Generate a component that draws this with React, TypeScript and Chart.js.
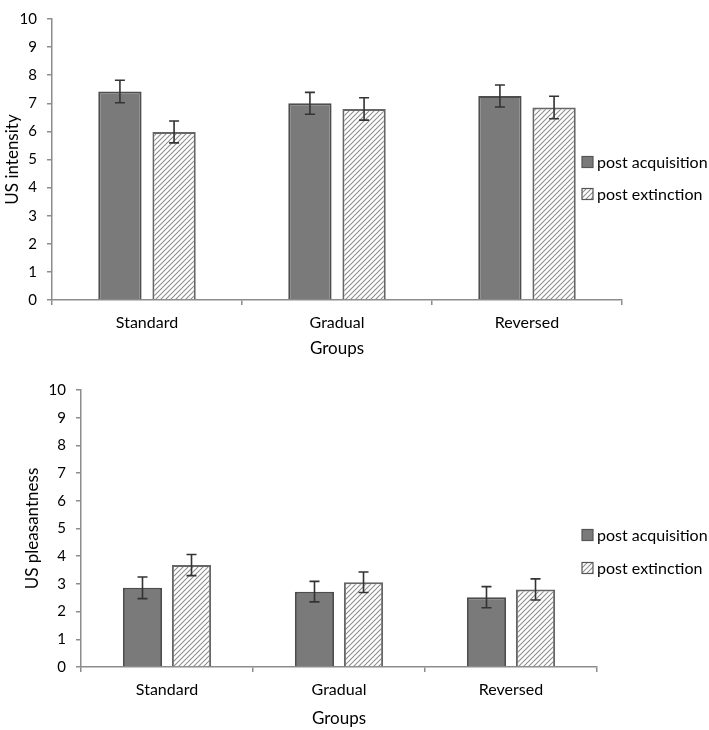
import { useEffect, useRef } from "react";
import Chart from "chart.js/auto";

const groups = ["Standard", "Gradual", "Reversed"];
const seriesNames = ["post acquisition", "post extinction"];

// US intensity
const intensityAcq = [7.42, 7.0, 7.26];
const intensityExt = [5.98, 6.8, 6.85];
const intensityAcqErr = [0.4, 0.39, 0.39];
const intensityExtErr = [0.39, 0.4, 0.4];

// US pleasantness
const pleasAcq = [2.86, 2.72, 2.52];
const pleasExt = [3.68, 3.06, 2.8];
const pleasAcqErr = [0.39, 0.37, 0.38];
const pleasExtErr = [0.38, 0.37, 0.38];

const yMin = 0;
const yMax = 10;
const yStep = 1;

const FONT = "Lato, 'Open Sans', sans-serif";
const AXIS = "#8c8c8c";

function makeHatch() {
    const size = 5;
    const c = document.createElement("canvas");
    c.width = size;
    c.height = size;
    const g = c.getContext("2d")!;
    g.fillStyle = "#ffffff";
    g.fillRect(0, 0, size, size);
    g.strokeStyle = "#8e8e8e";
    g.lineWidth = 1.1;
    g.beginPath();
    g.moveTo(-1, size + 1);
    g.lineTo(size + 1, -1);
    g.moveTo(-1, 1);
    g.lineTo(1, -1);
    g.moveTo(size - 1, size + 1);
    g.lineTo(size + 1, size - 1);
    g.stroke();
    return g.createPattern(c, "repeat")!;
}

const errorBars = {
    id: "errorBars",
    afterDatasetsDraw(chart: any, _args: any, opts: any) {
        const { ctx } = chart;
        const y = chart.scales.y;
        ctx.save();
        ctx.strokeStyle = "#333333";
        ctx.lineWidth = 1.6;
        chart.data.datasets.forEach((ds: any, i: number) => {
            const meta = chart.getDatasetMeta(i);
            meta.data.forEach((bar: any, j: number) => {
                const v = ds.data[j];
                const e = ds.err[j];
                const top = y.getPixelForValue(v + e);
                const bot = y.getPixelForValue(v - e);
                const cap = opts.cap;
                ctx.beginPath();
                ctx.moveTo(bar.x, top);
                ctx.lineTo(bar.x, bot);
                ctx.moveTo(bar.x - cap, top);
                ctx.lineTo(bar.x + cap, top);
                ctx.moveTo(bar.x - cap, bot);
                ctx.lineTo(bar.x + cap, bot);
                ctx.stroke();
            });
        });
        ctx.restore();
    },
};

const sideLegend = {
    id: "sideLegend",
    afterDraw(chart: any, _args: any, opts: any) {
        const { ctx } = chart;
        ctx.save();
        ctx.font = `16px ${FONT}`;
        ctx.textBaseline = "middle";
        chart.data.datasets.forEach((ds: any, i: number) => {
            const cy = opts.y + i * opts.gap;
            ctx.fillStyle = ds.backgroundColor;
            ctx.fillRect(opts.x, cy - 5.5, 11, 11);
            ctx.strokeStyle = "#555555";
            ctx.lineWidth = 1.2;
            ctx.strokeRect(opts.x, cy - 5.5, 11, 11);
            ctx.fillStyle = "#000000";
            ctx.fillText(ds.label, opts.x + 15, cy + 1);
        });
        ctx.restore();
    },
};

interface PanelProps {
    yTitle: string;
    acq: number[];
    ext: number[];
    acqErr: number[];
    extErr: number[];
    axisWidth: number;
    axisHeight: number;
    padTop: number;
    padRight: number;
    yTitlePad: number;
    yTickPad: number;
    xTitlePad: number;
    legendY: number;
    legendGap: number;
}

function Panel(p: PanelProps) {
    const canvasRef = useRef<HTMLCanvasElement | null>(null);
    const chartRef = useRef<Chart | null>(null);

    useEffect(() => {
        if (!canvasRef.current) return;
        const hatch = makeHatch();
        chartRef.current = new Chart(canvasRef.current, {
            type: "bar",
            data: {
                labels: groups,
                datasets: [
                    {
                        label: seriesNames[0],
                        data: p.acq,
                        err: p.acqErr,
                        backgroundColor: "#7a7a7a",
                        borderColor: "#4d4d4d",
                        borderWidth: 2,
                        categoryPercentage: 0.57,
                        barPercentage: 0.8,
                    } as any,
                    {
                        label: seriesNames[1],
                        data: p.ext,
                        err: p.extErr,
                        backgroundColor: hatch,
                        borderColor: "#666666",
                        borderWidth: 2,
                        categoryPercentage: 0.57,
                        barPercentage: 0.8,
                    } as any,
                ],
            },
            options: {
                animation: false,
                responsive: true,
                maintainAspectRatio: false,
                layout: { padding: { top: p.padTop, right: p.padRight, left: 0, bottom: 0 } },
                plugins: {
                    legend: { display: false },
                    tooltip: { enabled: false },
                    errorBars: { cap: 5 },
                    sideLegend: { x: 582, y: p.legendY, gap: p.legendGap },
                } as any,
                scales: {
                    x: {
                        afterFit: (s: any) => { s.height = p.axisHeight; },
                        grid: { display: true, drawOnChartArea: false, tickLength: 5, color: AXIS, lineWidth: 1.5 },
                        border: { color: AXIS, width: 1.5 },
                        ticks: { color: "#000", font: { family: FONT, size: 16 }, padding: 8 },
                        title: {
                            display: true,
                            text: "Groups",
                            color: "#000",
                            font: { family: FONT, size: 17 },
                            padding: { top: 0, bottom: p.xTitlePad },
                        },
                    },
                    y: {
                        min: yMin,
                        max: yMax,
                        afterFit: (s: any) => { s.width = p.axisWidth; },
                        grid: { display: true, drawOnChartArea: false, tickLength: 5, color: AXIS, lineWidth: 1.5 },
                        border: { color: AXIS, width: 1.5 },
                        ticks: { stepSize: yStep, color: "#000", font: { family: FONT, size: 15 }, padding: p.yTickPad },
                        title: {
                            display: true,
                            text: p.yTitle,
                            color: "#000",
                            font: { family: FONT, size: 17 },
                            padding: { top: p.yTitlePad, bottom: 0 },
                        },
                    },
                },
            },
            plugins: [errorBars, sideLegend],
        });
        return () => {
            if (chartRef.current) chartRef.current.destroy();
        };
    }, []);

    return (
        <div style={{ position: "relative", width: 709, height: 365 }}>
            <canvas ref={canvasRef} />
        </div>
    );
}

export default function App() {
    return (
        <div style={{ position: "absolute", left: 0, top: 0, width: 709, height: 730, background: "#fff" }}>
            <Panel
                yTitle="US intensity"
                acq={intensityAcq}
                ext={intensityExt}
                acqErr={intensityAcqErr}
                extErr={intensityExtErr}
                axisWidth={52}
                axisHeight={65}
                padTop={10}
                padRight={87}
                yTitlePad={2}
                yTickPad={10}
                xTitlePad={6}
                legendY={162}
                legendGap={32}
            />
            <Panel
                yTitle="US pleasantness"
                acq={pleasAcq}
                ext={pleasExt}
                acqErr={pleasAcqErr}
                extErr={pleasExtErr}
                axisWidth={81}
                axisHeight={63}
                padTop={25}
                padRight={112}
                yTitlePad={22}
                yTickPad={10}
                xTitlePad={1}
                legendY={170}
                legendGap={33}
            />
        </div>
    );
}
